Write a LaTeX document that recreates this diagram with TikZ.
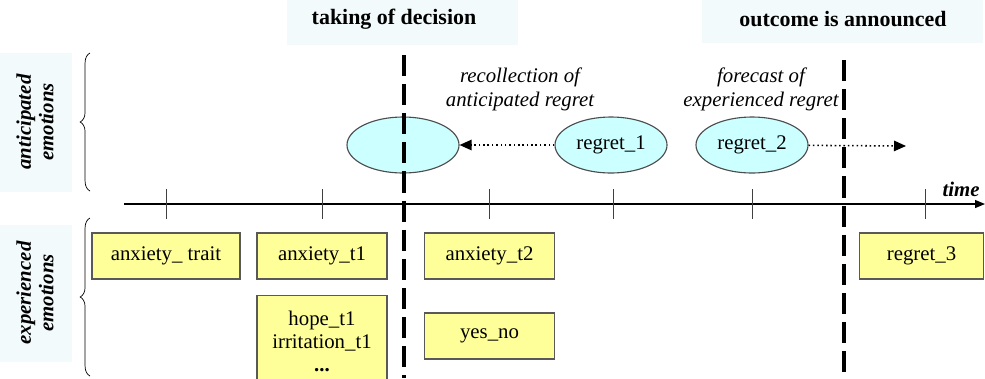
\documentclass[tikz,border=0pt]{standalone}
\usepackage{fontspec}
\setmainfont{Liberation Serif}
\usetikzlibrary{
  shapes.geometric, arrows.meta, positioning, decorations.pathreplacing
}
\definecolor{boxyellow}{HTML}{FFFF99}
\definecolor{ovalcyan}{HTML}{CCFFFF}
\definecolor{labelbg}{HTML}{F3FAFC}
\tikzset{
  emobox/.style={
    draw=black!65, fill=boxyellow, line width=0.8pt, align=center,
    minimum width=3.25cm, minimum height=1.15cm,
    font=\fontsize{14.8}{16.5}\selectfont
  },
  regretoval/.style={
    ellipse, draw=black!70, fill=ovalcyan, line width=0.8pt,
    minimum width=2.8cm, minimum height=1.4cm, inner sep=0pt,
    font=\fontsize{14.8}{17}\selectfont
  },
  phaselabel/.style={
    font=\fontsize{15.6}{18}\selectfont\bfseries
  },
  sidelabel/.style={
    rotate=90, align=center,
    font=\fontsize{14.8}{16}\selectfont\bfseries\itshape
  },
  notelabel/.style={
    align=center, font=\fontsize{14.8}{17}\selectfont\itshape
  },
  stageline/.style={
    line width=2.2pt, dash pattern=on 15pt off 5.7pt
  },
  tickmark/.style={line width=0.7pt, black!75},
  dotarrow/.style={
    -{Triangle[length=3mm, width=2.6mm]}, dotted, line width=1.1pt
  },
}

\begin{document}
\begin{tikzpicture}[x=0.025cm, y=-0.025cm]
  \useasboundingbox (0,0) rectangle (985,378);
  \clip (0,0) rectangle (985,378);

  % Pale panels behind the headings
  \fill[labelbg] (287,0) rectangle (518,45);
  \fill[labelbg] (702,0) rectangle (983,43);
  \fill[labelbg] (0,53) rectangle (72,192);
  \fill[labelbg] (0,225) rectangle (72,362);

  \node[phaselabel] (decision) at (394,19) {taking of decision};
  \node[phaselabel] (outcome) at (843,19) {outcome is announced};

  \node[sidelabel] (anticip) at (35,122) {anticipated\\emotions};
  \node[sidelabel] (experien) at (35,293) {experienced\\emotions};

  % Braces
  \draw[decorate, decoration={brace, amplitude=7pt}, line width=0.5pt]
    (90,191) -- (90,53);
  \draw[decorate, decoration={brace, amplitude=7pt}, line width=0.5pt]
    (90,376) -- (90,218);

  % Time axis
  \draw[-{Triangle[length=2.5mm, width=2mm]}, line width=0.8pt]
    (124,204) coordinate (tstart) -- (985,204) coordinate (tend);
  \node[font=\fontsize{14.8}{17}\selectfont\bfseries\itshape] (timelbl)
    at (961,189) {time};
  \foreach \x in {166,322,489,613,752,925}
    \draw[tickmark] (\x,189) -- (\x,219);

  % Anticipated emotions
  \node[regretoval] (reg0) at (403,145) {};
  \node[regretoval] (reg1) at (611,145) {regret\_1};
  \node[regretoval] (reg2) at (752,145) {regret\_2};
  \coordinate (fcend) at (906,146);

  \draw[dotarrow] (reg1) -- (reg0);
  \draw[dotarrow] (reg2) -- (fcend);

  \node[notelabel] (recol) at (520,89) {recollection of\\anticipated regret};
  \node[notelabel] (forec) at (761,89) {forecast of\\experienced regret};

  % Experienced emotions
  \node[emobox, minimum width=3.7cm] (anxtrait) at (166,256) {anxiety\_ trait};
  \node[emobox] (anx1) at (322,256) {anxiety\_t1};
  \node[emobox] (anx2) at (489.5,256) {anxiety\_t2};
  \node[emobox, minimum width=3.08cm] (reg3) at (921.5,256) {regret\_3};
  \node[emobox, anchor=north, inner ysep=11pt] (hope) at (322,295)
    {hope\_t1\\irritation\_t1\\\textbf{...}};
  \node[emobox] (yesno) at (489.5,336) {yes\_no};

  % Decision and outcome moments
  \draw[stageline] (404,55) -- (404,378);
  \draw[stageline] (844,60) -- (844,378);
\end{tikzpicture}
\end{document}
